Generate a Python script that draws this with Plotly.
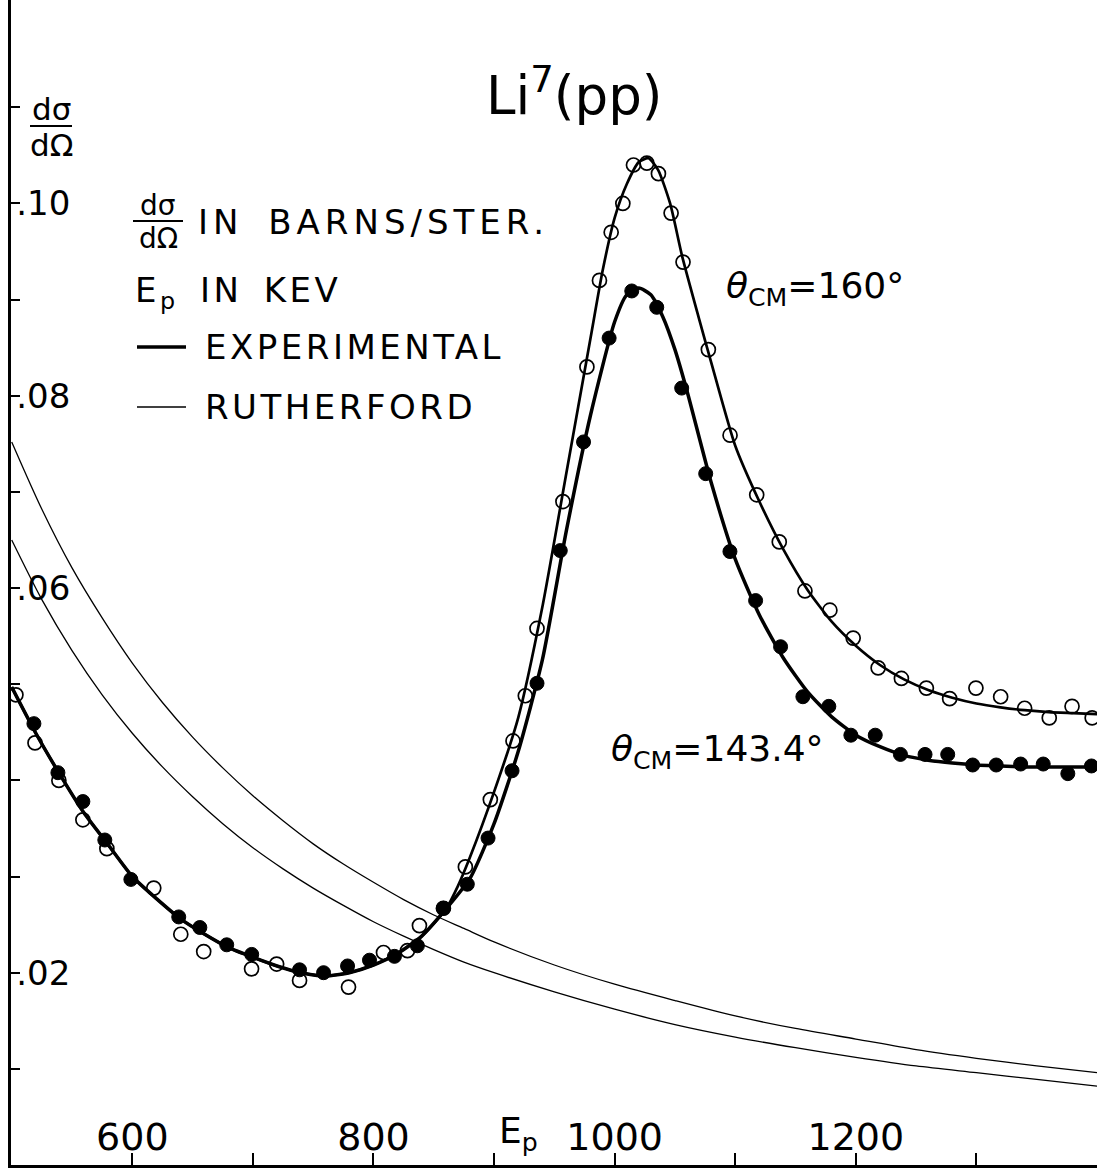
import plotly.graph_objects as go

W, H = 1097, 1169
ML, MR, MT, MB = 11, 0, 0, 4
FONT = "DejaVu Sans"

# ---------------- data ----------------
# shared low-energy part of the experimental curves (keV, barns/ster)
E_low = [500, 520, 540, 560, 580, 600, 620, 640, 660, 680, 700, 720, 740, 760, 780, 800, 820, 840, 860]
sig_low = [0.0497, 0.0449, 0.0406, 0.0366, 0.0333, 0.0300, 0.0277, 0.0256, 0.0240, 0.0226, 0.0216,
           0.0207, 0.0200, 0.01965, 0.0200, 0.0208, 0.0220, 0.0238, 0.0266]

# theta_CM = 160 deg branch of the experimental curve
E_160 = [870, 880, 900, 920, 940, 960, 980, 990, 1000, 1010, 1020, 1028, 1036, 1046, 1056, 1070, 1080,
         1100, 1120, 1140, 1160, 1180, 1200, 1220, 1240, 1260, 1280, 1300, 1320, 1340, 1360, 1380, 1400]
sig_160 = [0.0290, 0.0320, 0.0388, 0.0465, 0.0580, 0.0720, 0.0860, 0.0930, 0.0985, 0.1020, 0.1043, 0.1047,
           0.1035, 0.1000, 0.0945, 0.0880, 0.0835, 0.0748, 0.0690, 0.0640, 0.0598, 0.0565, 0.0540, 0.0520,
           0.0505, 0.0494, 0.0486, 0.0480, 0.0476, 0.0473, 0.0471, 0.0470, 0.0469]

# theta_CM = 143.4 deg branch of the experimental curve
E_143 = [880, 900, 920, 940, 960, 980, 1000, 1010, 1020, 1030, 1040, 1050, 1060, 1080, 1100, 1120, 1140,
         1160, 1180, 1200, 1220, 1240, 1260, 1280, 1300, 1320, 1340, 1360, 1380, 1400]
sig_143 = [0.0298, 0.0355, 0.0430, 0.0525, 0.0660, 0.0780, 0.0877, 0.0905, 0.0912, 0.0905, 0.0882, 0.0848,
           0.0805, 0.0710, 0.0630, 0.0572, 0.0527, 0.0492, 0.0466, 0.0447, 0.0435, 0.0426, 0.0421, 0.0418,
           0.0416, 0.0415, 0.0414, 0.0414, 0.0414, 0.0414]

# measured points, theta_CM = 160 deg (open circles)
pts160_E = [503.5, 519.3, 539.1, 559.0, 578.9, 617.8, 640.2, 659.2, 698.9, 719.7, 738.7, 779.3, 808.3, 828.2,
            838.1, 858.0, 876.2, 896.9, 915.7, 925.9, 935.6, 957.1, 977.0, 987.4, 997.1, 1006.8, 1015.6,
            1026.7, 1036.3, 1046.8, 1056.7, 1077.7, 1095.7, 1117.8, 1136.5, 1157.8, 1178.5, 1197.8, 1218.5,
            1237.8, 1258.5, 1277.8, 1299.6, 1320.1, 1340.0, 1360.4, 1379.3, 1396.0]
pts160_s = [0.0489, 0.0439, 0.0400, 0.0359, 0.0329, 0.0288, 0.0240, 0.0222, 0.0204, 0.0209, 0.0192, 0.0185,
            0.0221, 0.0223, 0.0249, 0.0267, 0.0310, 0.0380, 0.0441, 0.0488, 0.0558, 0.0690, 0.0830, 0.0920,
            0.0970, 0.1000, 0.1040, 0.1042, 0.1031, 0.0990, 0.0939, 0.0848, 0.0759, 0.0697, 0.0648, 0.0597,
            0.0577, 0.0548, 0.0517, 0.0506, 0.0496, 0.0485, 0.0496, 0.0487, 0.0475, 0.0465, 0.0477, 0.0465]

# measured points, theta_CM = 143.4 deg (filled circles)
pts143_E = [518.4, 538.3, 559.0, 577.2, 598.8, 638.5, 656.0, 678.3, 699.0, 738.7, 758.6, 778.5, 796.7, 817.4,
            836.4, 858.0, 877.8, 895.0, 914.9, 935.6, 954.9, 974.2, 995.4, 1014.2, 1034.9, 1055.6, 1075.5,
            1095.6, 1116.9, 1137.6, 1156.1, 1177.6, 1195.9, 1216.1, 1237.0, 1257.4, 1276.2, 1296.9, 1316.4,
            1336.7, 1355.4, 1375.8, 1395.4]
pts143_s = [0.0459, 0.0408, 0.0378, 0.0338, 0.0297, 0.0258, 0.0247, 0.0229, 0.0219, 0.0203, 0.0200, 0.0207,
            0.0213, 0.0217, 0.0228, 0.0267, 0.0292, 0.0340, 0.0410, 0.0501, 0.0639, 0.0752, 0.0860, 0.0909,
            0.0892, 0.0808, 0.0719, 0.0638, 0.0587, 0.0539, 0.0487, 0.0477, 0.0447, 0.0447, 0.0427, 0.0427,
            0.0427, 0.0416, 0.0416, 0.0417, 0.0417, 0.0407, 0.0415]

# Rutherford cross sections (thin lines)
E_ruth = [500, 525, 550, 575, 600, 625, 650, 675, 700, 725, 750, 775, 800, 825, 850, 875, 900,
          950, 1000, 1050, 1100, 1150, 1200, 1250, 1300, 1350, 1400]
ruth_a = [0.0752, 0.0682, 0.0621, 0.0569, 0.0522, 0.0481, 0.0445, 0.0413, 0.0384, 0.0358, 0.0334, 0.0313,
          0.0294, 0.0276, 0.0260, 0.0246, 0.0232, 0.0208, 0.0188, 0.0171, 0.0155, 0.0142, 0.0131, 0.0120,
          0.0111, 0.0103, 0.0096]
ruth_b = [0.0650, 0.0588, 0.0535, 0.0489, 0.0449, 0.0414, 0.0383, 0.0355, 0.0330, 0.0308, 0.0288, 0.0270,
          0.0253, 0.0238, 0.0224, 0.0211, 0.0200, 0.0180, 0.0162, 0.0146, 0.0133, 0.0122, 0.0112, 0.0103,
          0.0096, 0.0089, 0.0082]

x_tickvals = [600, 700, 800, 900, 1000, 1100, 1200, 1300]
x_ticktext = ["600", "", "800", "", "1000", "", "1200", ""]
y_tickvals = [0.01, 0.02, 0.03, 0.04, 0.05, 0.06, 0.07, 0.08, 0.09, 0.10, 0.11]
y_ticktext = ["", ".02", "", "", "", ".06", "", ".08", "", ".10", ""]

# ---------------- figure ----------------
fig = go.Figure()

for ys in (ruth_a, ruth_b):
    fig.add_trace(go.Scatter(x=E_ruth, y=ys, mode="lines",
                             line=dict(color="black", width=1.3, shape="spline", smoothing=0.8),
                             hoverinfo="skip", showlegend=False))

fig.add_trace(go.Scatter(x=E_low + E_160, y=sig_low + sig_160, mode="lines",
                         line=dict(color="black", width=2.7, shape="spline", smoothing=0.6),
                         showlegend=False))
fig.add_trace(go.Scatter(x=E_low + E_143, y=sig_low + sig_143, mode="lines",
                         line=dict(color="black", width=3.5, shape="spline", smoothing=0.6),
                         showlegend=False))

fig.add_trace(go.Scatter(x=pts160_E, y=pts160_s, mode="markers",
                         marker=dict(symbol="circle", size=14, color="rgba(255,255,255,0)",
                                     line=dict(color="black", width=1.7)),
                         showlegend=False))
fig.add_trace(go.Scatter(x=pts143_E, y=pts143_s, mode="markers",
                         marker=dict(symbol="circle", size=14, color="black",
                                     line=dict(color="black", width=1)),
                         showlegend=False))

PW = W - ML - MR
PH = H - MT - MB


def px(x):
    return (x - ML) / PW


def py(y):
    return (H - MB - y) / PH


annos = []


def text(t, x, y, size, xanchor="left", yanchor="middle", spacing=None):
    if spacing:
        t = '<span style="letter-spacing:%s;word-spacing:%s">%s</span>' % (spacing[0], spacing[1], t)
    annos.append(dict(text=t, x=px(x), y=py(y), xref="paper", yref="paper", showarrow=False,
                      xanchor=xanchor, yanchor=yanchor, font=dict(family=FONT, size=size, color="black")))


LS = ("3.5px", "7px")
# title
text("Li<sup>7</sup>(pp)", 574, 92, 53, xanchor="center")
# y axis label
text("dσ", 51, 109, 31, xanchor="center")
text("dΩ", 51, 145, 31, xanchor="center")
# legend block
text("dσ", 158, 205, 28, xanchor="center")
text("dΩ", 158, 238, 28, xanchor="center")
text("IN BARNS/STER.", 196, 222, 34, spacing=("5px", "9px"))
text("E<sub>p</sub> IN KEV", 133, 292, 34, spacing=LS)
text("EXPERIMENTAL", 203, 347, 34, spacing=LS)
text("RUTHERFORD", 203, 407, 34, spacing=LS)
# curve labels
text("<i>θ</i><sub>CM</sub>=160°", 724, 288, 36)
text("<i>θ</i><sub>CM</sub>=143.4°", 609, 751, 36)
# x axis title
text("E<sub>p</sub>", 518, 1133, 36, xanchor="center")

shapes = [
    dict(type="line", xref="paper", yref="paper", x0=px(30), x1=px(72), y0=py(126), y1=py(126),
         line=dict(color="black", width=2.2)),
    dict(type="line", xref="paper", yref="paper", x0=px(133), x1=px(183), y0=py(221), y1=py(221),
         line=dict(color="black", width=2.2)),
    dict(type="line", xref="paper", yref="paper", x0=px(137), x1=px(186), y0=py(347), y1=py(347),
         line=dict(color="black", width=3.5)),
    dict(type="line", xref="paper", yref="paper", x0=px(137), x1=px(186), y0=py(407), y1=py(407),
         line=dict(color="black", width=1.3)),
]

fig.update_layout(
    width=W, height=H,
    margin=dict(l=ML, r=MR, t=MT, b=MB, pad=0),
    paper_bgcolor="white", plot_bgcolor="white",
    font=dict(family=FONT, color="black"),
    showlegend=False,
    annotations=annos,
    shapes=shapes,
    xaxis=dict(range=[499.4, 1400], showgrid=False, zeroline=False, showline=True, linecolor="black",
               linewidth=3, ticks="inside", ticklen=12, tickwidth=1.6, tickcolor="black",
               tickvals=x_tickvals, ticktext=x_ticktext, ticklabelposition="inside",
               tickfont=dict(family=FONT, size=38, color="black")),
    yaxis=dict(range=[0, 0.12116], showgrid=False, zeroline=False, showline=True, linecolor="black",
               linewidth=3, ticks="inside", ticklen=9, tickwidth=2, tickcolor="black",
               tickvals=y_tickvals, ticktext=y_ticktext, ticklabelposition="inside",
               tickfont=dict(family=FONT, size=34, color="black")),
)

fig.write_html("out.html")
